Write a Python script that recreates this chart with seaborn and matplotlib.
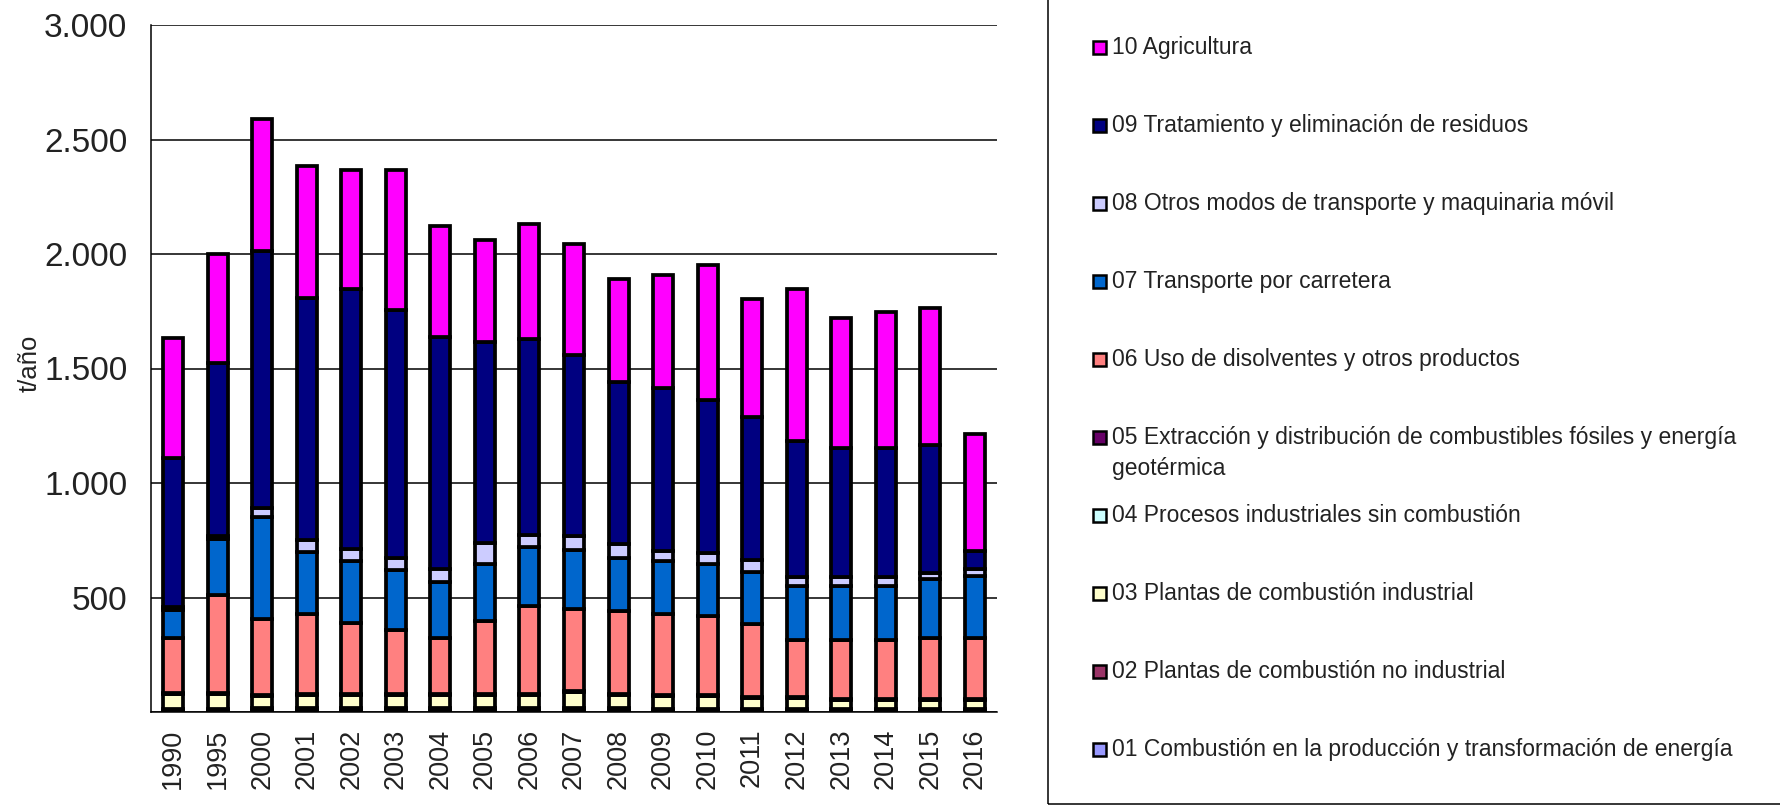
import matplotlib
matplotlib.use('Agg')
import matplotlib.pyplot as plt
from matplotlib.patches import Rectangle
import numpy as np
import pandas as pd
import seaborn as sns


# --- data (t/año per sector) ---
years = ['1990', '1995', '2000', '2001', '2002', '2003', '2004', '2005', '2006', '2007',
         '2008', '2009', '2010', '2011', '2012', '2013', '2014', '2015', '2016']

s01_energia = [3, 3, 3, 3, 3, 3, 3, 3, 3, 3, 3, 3, 3, 3, 3, 3, 3, 3, 3]
s02_no_industrial = [12, 12, 15, 15, 15, 15, 15, 15, 15, 15, 15, 12, 12, 12, 12, 12, 12, 12, 12]
s03_industrial = [63, 65, 54, 58, 58, 58, 58, 58, 58, 68, 58, 54, 55, 47, 45, 37, 37, 37, 37]
s04_procesos = [2, 2, 2, 2, 2, 2, 2, 2, 2, 2, 2, 2, 2, 2, 2, 2, 2, 2, 2]
s05_extraccion = [2, 2, 2, 2, 2, 2, 2, 2, 2, 2, 2, 2, 2, 2, 2, 2, 2, 2, 2]
s06_disolventes = [240, 426, 331, 348, 310, 279, 241, 317, 382, 358, 360, 355, 345, 318, 251, 259, 259, 268, 268]
s07_carretera = [124, 245, 443, 272, 270, 261, 248, 251, 258, 261, 234, 232, 229, 228, 237, 237, 237, 255, 271]
s08_otros_transp = [12, 15, 43, 52, 50, 52, 55, 92, 55, 58, 58, 42, 48, 50, 37, 37, 37, 28, 29]
s09_residuos = [650, 752, 1121, 1058, 1135, 1083, 1014, 874, 854, 793, 709, 712, 666, 628, 594, 566, 566, 558, 79]
s10_agricultura = [526, 478, 577, 574, 522, 612, 483, 446, 502, 485, 449, 496, 591, 512, 663, 566, 591, 599, 509]

labels = ['01 Combustión en la producción y transformación de energía',
          '02 Plantas de combustión no industrial',
          '03 Plantas de combustión industrial',
          '04 Procesos industriales sin combustión',
          '05 Extracción y distribución de combustibles fósiles y energía\ngeotérmica',
          '06 Uso de disolventes y otros productos',
          '07 Transporte por carretera',
          '08 Otros modos de transporte y maquinaria móvil',
          '09 Tratamiento y eliminación de residuos',
          '10 Agricultura']

colors = ['#9999FF', '#993366', '#FFFFCC', '#CCFFFF', '#660066',
          '#FF8080', '#0066CC', '#CCCCFF', '#000080', '#FF00FF']

series = [s01_energia, s02_no_industrial, s03_industrial, s04_procesos, s05_extraccion,
          s06_disolventes, s07_carretera, s08_otros_transp, s09_residuos, s10_agricultura]

yticks = [0, 500, 1000, 1500, 2000, 2500, 3000]
ytick_labels = ['', '500', '1.000', '1.500', '2.000', '2.500', '3.000']


sns.set_style('white')
plt.rcParams['font.family'] = ['Liberation Sans', 'DejaVu Sans']

W, H = 1781, 810
fig = plt.figure(figsize=(W / 100, H / 100), dpi=100)
ax = fig.add_axes([151 / W, 1 - 712 / H, (997 - 151) / W, (712 - 25) / H])

bottom = np.zeros(len(years))
for vals, col in zip(series, colors):
    df = pd.DataFrame({'year': years, 'value': vals})
    sns.barplot(data=df, x='year', y='value', color=col, saturation=1, width=0.45,
                edgecolor='black', linewidth=2.7, bottom=bottom, errorbar=None,
                ax=ax, zorder=3)
    bottom = bottom + np.array(vals)

ax.set_xlim(-0.5, len(years) - 0.5)
ax.set_ylim(0, 3000)
ax.set_yticks(yticks)
ax.set_yticklabels(ytick_labels)
ax.yaxis.grid(True, color='black', linewidth=1.1)
ax.set_axisbelow(True)

for side in ['top', 'right']:
    ax.spines[side].set_visible(False)
for side in ['left', 'bottom']:
    ax.spines[side].set_color('black')
    ax.spines[side].set_linewidth(1.1)

ax.set_xticks(np.arange(-0.5, len(years), 1), minor=True)
ax.tick_params(axis='x', which='major', length=0, labelsize=19.5, labelrotation=90, pad=12)
ax.tick_params(axis='x', which='minor', length=7, width=1.1, color='black', direction='out')
ax.tick_params(axis='y', length=7, width=1.1, color='black', direction='out',
               labelsize=24, pad=10, labelcolor='#222222')
for lab in ax.get_xticklabels():
    lab.set_color('#222222')

ax.set_xlabel('')
ax.set_ylabel('t/año', fontsize=18.5, color='#222222')
ax.yaxis.set_label_coords((42 - 151) / (997 - 151), 0.507)

# legend box on the right, drawn by hand to match the spacing
fig.patches.append(Rectangle((1048 / W, 6 / H), (W - 1048 + 20) / W, 1.2,
                             transform=fig.transFigure, facecolor='none',
                             edgecolor='black', linewidth=1.1))
row_y = 47.5
for lab, col in zip(labels[::-1], colors[::-1]):
    fig.patches.append(Rectangle((1093 / W, 1 - (row_y + 6.5) / H), 13 / W, 13 / H,
                                 transform=fig.transFigure, facecolor=col,
                                 edgecolor='black', linewidth=1.8))
    if '\n' in lab:
        fig.text(1112 / W, 1 - (row_y - 12) / H, lab, fontsize=16.5, va='top', ha='left',
                 color='#222222', linespacing=1.45)
    else:
        fig.text(1112 / W, 1 - row_y / H, lab, fontsize=16.5, va='center', ha='left',
                 color='#222222')
    row_y += 78

fig.savefig('out.png', dpi=100)
